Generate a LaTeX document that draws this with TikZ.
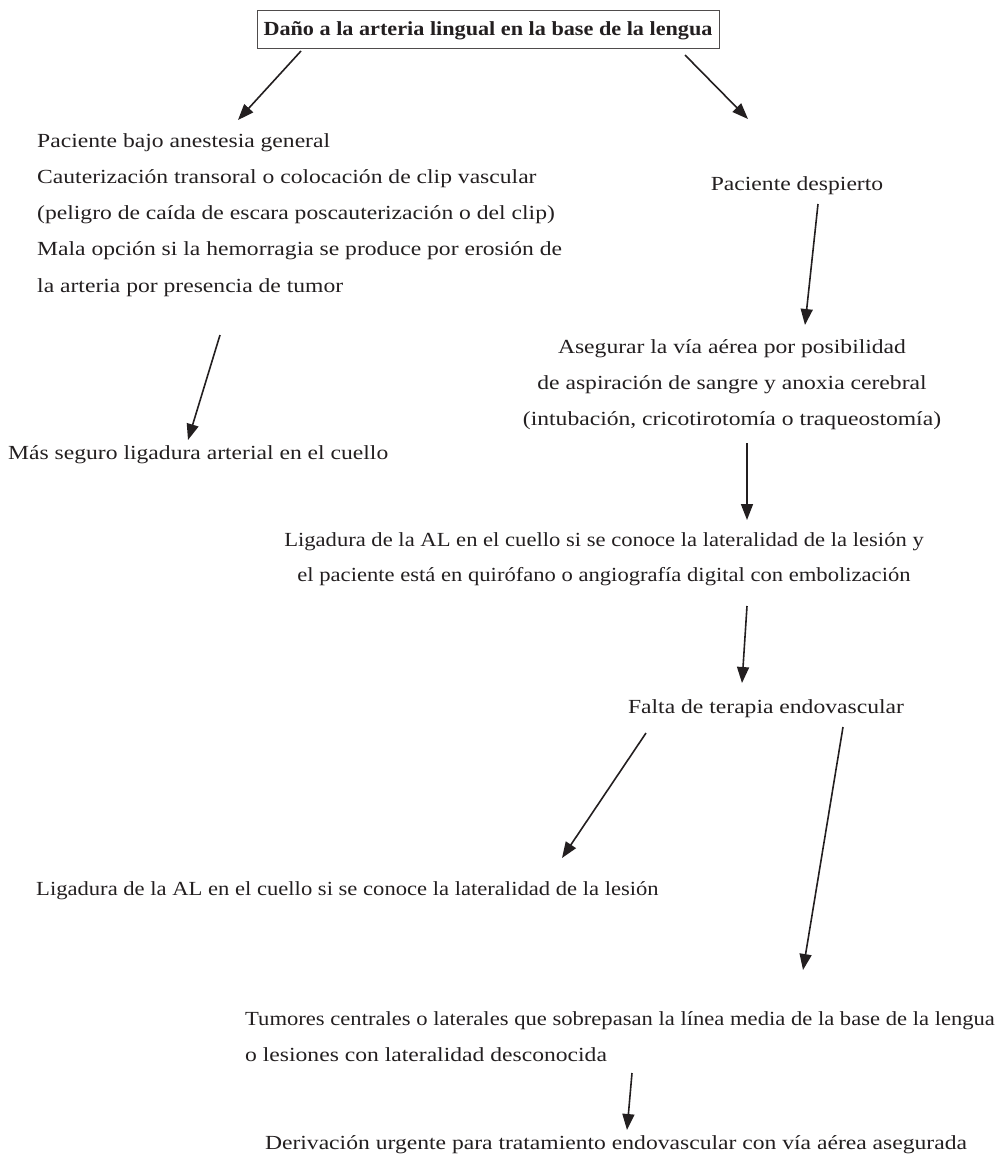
\documentclass[tikz,border=0pt]{standalone}
\usepackage{fontspec}
\setmainfont{Liberation Serif}[FakeStretch=1.18]
\newfontfamily\titlefont{Liberation Serif}[FakeStretch=1.11,UprightFont={* Bold}]
\newfontfamily\tightfont{Liberation Serif}[FakeStretch=1.13]
\newfontfamily\narrowfont{Liberation Serif}[FakeStretch=1.13]
\usetikzlibrary{arrows.meta}
\definecolor{ink}{HTML}{231F20}
\begin{document}
\begin{tikzpicture}[x=1pt,y=-1pt,
  txt/.style={inner sep=0pt,text=ink,font=\fontsize{20}{24}\selectfont},
  lw/.style={txt,anchor=base west},
  cw/.style={txt,anchor=base},
  narrow/.style={font=\fontsize{20}{24}\narrowfont},
  arr/.style={draw=ink,line width=1.6pt,-{Triangle[length=16pt,width=12pt]}},
]
\useasboundingbox (0,0) rectangle (999,1157);
% title
\node[cw,font=\fontsize{20}{24}\titlefont] (title) at (488,35) {Daño a la arteria lingual en la base de la lengua};
\draw[ink!80,line width=0.9pt] (257,10) rectangle (719,48);
% left branch
\node[lw] (l1) at (37,147) {Paciente bajo anestesia general};
\node[lw] (l2) at (37,183) {Cauterización transoral o colocación de clip vascular};
\node[lw] (l3) at (37,219) {(peligro de caída de escara poscauterización o del clip)};
\node[lw] (l4) at (37,255) {Mala opción si la hemorragia se produce por erosión de};
\node[lw] (l5) at (37,292) {la arteria por presencia de tumor};
\node[lw] (mas) at (8,459) {Más seguro ligadura arterial en el cuello};
% right branch
\node[cw] (desp) at (797,190) {Paciente despierto};
\node[cw] (as1) at (732,353) {Asegurar la vía aérea por posibilidad};
\node[cw] (as2) at (732,389) {de aspiración de sangre y anoxia cerebral};
\node[cw] (as3) at (732,425) {(intubación, cricotirotomía o traqueostomía)};
\node[cw,narrow] (lig1) at (604,546) {Ligadura de la AL en el cuello si se conoce la lateralidad de la lesión y};
\node[cw,narrow] (lig2) at (604,581) {el paciente está en quirófano o angiografía digital con embolización};
\node[cw] (falta) at (766,713) {Falta de terapia endovascular};
\node[lw,narrow] (lig3) at (36,895) {Ligadura de la AL en el cuello si se conoce la lateralidad de la lesión};
\node[lw,font=\fontsize{20}{24}\tightfont] (tum1) at (245,1025) {Tumores centrales o laterales que sobrepasan la línea media de la base de la lengua};
\node[lw] (tum2) at (245,1061) {o lesiones con lateralidad desconocida};
\node[cw] (der) at (616,1149) {Derivación urgente para tratamiento endovascular con vía aérea asegurada};
% arrow end points
\coordinate (a1s) at (301,51);  \coordinate (a1e) at (238,120);
\coordinate (a2s) at (685,55);  \coordinate (a2e) at (748,119);
\coordinate (a3s) at (818,204); \coordinate (a3e) at (805,325);
\coordinate (a4s) at (220,335); \coordinate (a4e) at (188,440);
\coordinate (a5s) at (747,443); \coordinate (a5e) at (747,520);
\coordinate (a6s) at (747,606); \coordinate (a6e) at (742,683);
\coordinate (a7s) at (646,733); \coordinate (a7e) at (562,858);
\coordinate (a8s) at (843,727); \coordinate (a8e) at (803,970);
\coordinate (a9s) at (632,1073);\coordinate (a9e) at (627,1130);
\foreach \i in {1,...,9} {\draw[arr] (a\i s) -- (a\i e);}
\end{tikzpicture}
\end{document}
